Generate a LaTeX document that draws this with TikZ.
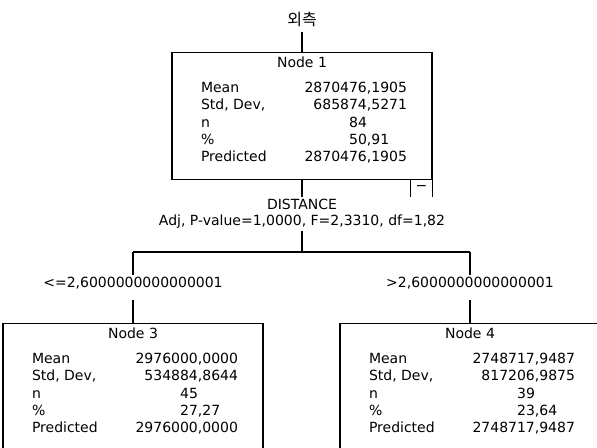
\documentclass[tikz,border=0pt]{standalone}
\usepackage{fontspec}
\setmainfont{DejaVu Sans}
\newfontfamily\kofont{Noto Sans CJK KR}

\newcommand{\statbox}[6]{%
  \parbox[t][95pt][t]{195pt}{\centering\rule{0pt}{11.3pt}#1\par\vspace{5.7pt}%
    \raggedright\hspace*{21.75pt}%
    \begin{tabular*}{154.5pt}[t]{@{}l@{\extracolsep{\fill}}r@{}}
      Mean & #2\\
      Std, Dev, & #3\\
      n & #4\\
      \% & #5\\
      Predicted & #6
    \end{tabular*}}}

\begin{document}
\begin{tikzpicture}[x=0.75pt,y=-0.75pt,line width=0.8pt,
    main node/.style={draw,anchor=north,inner sep=0pt,font=\fontsize{10.5}{13}\selectfont},
    label node/.style={inner sep=1pt,align=center,font=\fontsize{10.5}{12}\selectfont},
    toggle node/.style={anchor=north,inner sep=0pt,minimum width=15.75pt,minimum height=12.75pt,font=\fontsize{10.5}{12}\selectfont}]

    \useasboundingbox (0,0) rectangle (597,448);
    \clip (0,0) rectangle (597,448);

    \node[font=\kofont\fontsize{12}{14}\selectfont] (top) at (302,20) {외측};
    \node[main node] (1) at (302,52) {\statbox{Node 1}{2870476,1905}{685874,5271}{84\phantom{,1905}}{50,91\phantom{05}}{2870476,1905}};
    \node[toggle node] (t1) at (421.5,179) {−};
    \node[label node] (split) at (302,214) {DISTANCE\\Adj, P-value=1,0000, F=2,3310, df=1,82};

    \coordinate (b3) at (133,252);
    \coordinate (b4) at (470,252);
    \node[label node] (le) at (133,283) {<=2,6000000000000001};
    \node[label node] (gt) at (470,283) {>2,6000000000000001};

    \node[main node] (3) at (133,323) {\statbox{Node 3}{2976000,0000}{534884,8644}{45\phantom{,0000}}{27,27\phantom{00}}{2976000,0000}};
    \node[main node] (4) at (470,323) {\statbox{Node 4}{2748717,9487}{817206,9875}{39\phantom{,9487}}{23,64\phantom{87}}{2748717,9487}};

    \draw (t1.north west) -- (t1.south west) (t1.north east) -- (t1.south east);

    \path
        (top) edge (1)
        (1) edge (split)
        (split.south) edge (split.south |- b3)
        (b3) edge (b4)
        (b3) edge (le)
        (b4) edge (gt)
        (le) edge[shorten <=7pt] (3)
        (gt) edge[shorten <=7pt] (4)
        ;
\end{tikzpicture}
\end{document}
